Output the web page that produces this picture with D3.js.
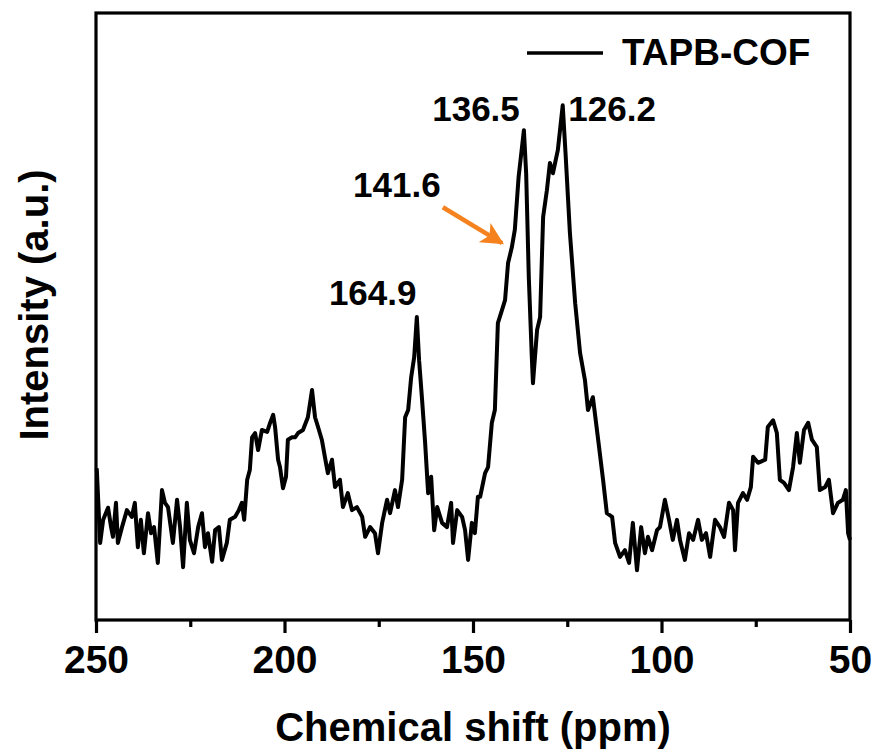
<!DOCTYPE html>
<html>
<head>
<meta charset="utf-8">
<script src="https://cdn.jsdelivr.net/npm/d3@7"></script>
<style>
  body { margin: 0; background: #fff; }
  text { font-family: "Liberation Sans", Arial, sans-serif; font-weight: bold; fill: #000; }
</style>
</head>
<body>
<div id="chart"></div>
<script>

// spectrum: chemical shift (ppm) and intensity (a.u.)
var shift = [249.8, 248.9, 248.1, 246.8, 246.0, 245.5, 244.7, 244.2, 243.1, 241.8, 240.5, 239.7, 238.9, 238.1, 237.3, 236.2,
  235.4, 234.6, 233.6, 232.5, 231.7, 230.9, 229.6, 228.5, 227.7, 226.9, 225.9, 225.1, 224.0, 222.9, 221.9, 221.1,
  220.3, 219.2, 218.4, 217.4, 216.6, 215.3, 214.5, 213.1, 212.1, 211.3, 210.7, 209.9, 209.2, 208.6, 207.8, 207.0,
  206.0, 204.6, 203.8, 203.0, 202.5, 201.7, 201.2, 200.4, 199.6, 199.1, 198.0, 197.2, 196.4, 195.1, 193.8, 192.7,
  191.9, 191.1, 190.1, 189.3, 188.5, 187.4, 186.6, 185.3, 184.5, 183.2, 182.1, 180.8, 179.4, 178.6, 177.3, 176.0,
  175.2, 174.1, 172.8, 172.0, 170.7, 169.9, 168.8, 168.0, 167.2, 166.4, 165.6, 164.9, 164.3, 163.5, 162.7, 161.9,
  161.1, 160.3, 159.5, 158.2, 156.9, 155.8, 155.3, 154.2, 152.9, 152.1, 151.3, 150.3, 149.5, 148.7, 148.1, 146.8,
  146.0, 145.0, 144.2, 143.4, 142.3, 141.5, 140.7, 139.7, 138.9, 137.9, 136.5, 135.9, 135.2, 134.4, 134.1, 133.0,
  132.2, 131.4, 130.4, 129.6, 128.8, 127.5, 126.2, 125.4, 124.3, 122.9, 121.6, 120.3, 119.5, 118.2, 116.8, 115.5,
  114.5, 113.1, 112.3, 111.0, 109.7, 108.6, 107.6, 106.5, 105.4, 104.4, 103.6, 102.5, 101.2, 100.4, 99.1, 98.0,
  97.0, 95.9, 95.1, 93.8, 92.7, 91.6, 90.3, 89.3, 88.2, 87.1, 85.8, 84.5, 83.4, 82.1, 81.0, 80.5,
  79.7, 78.4, 77.3, 76.3, 75.7, 74.4, 72.5, 71.8, 70.4, 69.4, 68.6, 67.5, 66.2, 65.1, 64.1, 63.3,
  62.2, 61.1, 60.1, 58.8, 58.0, 56.6, 55.6, 54.5, 53.2, 51.9, 51.1, 50.5, 50.0];

var intensity = [25.0, 12.7, 16.5, 18.5, 15.3, 13.7, 19.3, 12.7, 15.3, 18.1, 17.0, 19.3, 12.0, 16.5, 11.0, 17.6,
  14.3, 15.3, 9.4, 21.4, 19.3, 18.6, 12.7, 19.8, 15.3, 8.7, 19.3, 13.2, 11.0, 15.3, 17.6, 12.0,
  14.3, 9.6, 14.8, 15.3, 9.9, 12.7, 16.5, 17.0, 18.1, 19.3, 16.5, 23.1, 24.7, 30.1, 30.8, 28.0,
  31.3, 31.0, 32.5, 33.8, 31.8, 26.4, 25.2, 21.7, 23.6, 29.7, 30.1, 30.1, 30.8, 31.3, 33.4, 37.9,
  33.4, 31.8, 29.7, 26.9, 24.2, 26.4, 21.9, 23.1, 18.6, 20.9, 18.1, 18.6, 17.0, 13.7, 15.3, 14.3,
  11.0, 16.0, 19.8, 17.6, 21.4, 18.6, 23.1, 33.4, 34.6, 40.0, 43.3, 49.9, 42.8, 36.2, 29.2, 20.9,
  23.6, 14.8, 18.6, 16.0, 15.3, 19.3, 12.7, 18.1, 17.0, 14.8, 9.9, 16.0, 14.3, 20.3, 20.3, 24.2,
  25.2, 32.5, 34.6, 48.9, 51.1, 52.7, 58.8, 61.4, 64.3, 73.0, 80.7, 73.6, 56.5, 43.3, 39.0, 47.8,
  49.9, 66.4, 70.8, 75.3, 73.6, 77.4, 84.8, 76.3, 63.8, 52.2, 44.0, 39.5, 34.6, 36.7, 29.7, 23.1,
  17.6, 17.0, 12.7, 10.4, 11.5, 9.4, 16.0, 8.2, 15.3, 11.0, 13.7, 11.5, 14.8, 15.3, 19.8, 16.5,
  13.2, 16.5, 13.2, 9.9, 14.3, 13.2, 16.5, 13.2, 14.3, 10.4, 16.5, 15.3, 13.7, 19.3, 18.1, 11.5,
  19.3, 20.9, 19.8, 21.9, 26.9, 25.9, 26.4, 31.8, 32.9, 30.8, 23.1, 22.6, 21.4, 25.2, 30.8, 25.9,
  31.3, 32.5, 29.7, 28.5, 21.4, 21.9, 23.1, 17.6, 19.3, 19.8, 21.4, 14.3, 13.2];

var xTicks = [250, 200, 150, 100, 50];
var xMinor = [225, 175, 125, 75];

// peak labels: text, position (ppm, a.u.) of the label
var peakText = ["164.9", "141.6", "136.5", "126.2"];
var peakX = [176.6, 170.2, 149.2, 113.1];
var peakY = [51.9, 69.7, 82.2, 82.2];

// orange arrow pointing at the 141.6 shoulder
var arrowFrom = [158.0, 68.0];
var arrowTo = [142.3, 62.1];

var seriesName = "TAPB-COF";

var W = 877, H = 751;
var margin = {top: 13, right: 27, bottom: 131, left: 96};
var width = W - margin.left - margin.right,
    height = H - margin.top - margin.bottom;

var svg = d3.select("#chart").append("svg")
    .attr("width", W)
    .attr("height", H);

var g = svg.append("g")
    .attr("transform", "translate(" + margin.left + "," + margin.top + ")");

var x = d3.scaleLinear().domain([250, 50]).range([0, width]);
var y = d3.scaleLinear().domain([0, 100]).range([height, 0]);

var data = shift.map(function(s, i) { return {x: s, y: intensity[i]}; });

var line = d3.line()
    .x(function(d) { return x(d.x); })
    .y(function(d) { return y(d.y); });

g.append("path")
    .datum(data)
    .attr("fill", "none")
    .attr("stroke", "#000")
    .attr("stroke-width", 4)
    .attr("stroke-linejoin", "round")
    .attr("d", line);

// frame
g.append("rect")
    .attr("width", width)
    .attr("height", height)
    .attr("fill", "none")
    .attr("stroke", "#000")
    .attr("stroke-width", 3.2);

// x axis
var xAxis = g.append("g")
    .attr("transform", "translate(0," + height + ")")
    .call(d3.axisBottom(x).tickValues(xTicks).tickSize(13).tickPadding(12));
xAxis.select(".domain").remove();
xAxis.selectAll(".tick line").attr("stroke-width", 3.2);
xAxis.selectAll(".tick text")
    .style("font-size", "39px")
    .style("font-family", "'Liberation Sans', Arial, sans-serif")
    .style("font-weight", "bold");

var xAxisMinor = g.append("g")
    .attr("transform", "translate(0," + height + ")")
    .call(d3.axisBottom(x).tickValues(xMinor).tickSize(7).tickFormat(""));
xAxisMinor.select(".domain").remove();
xAxisMinor.selectAll(".tick line").attr("stroke-width", 3.2);

// axis titles
svg.append("text")
    .attr("x", margin.left + width / 2)
    .attr("y", 741)
    .attr("text-anchor", "middle")
    .style("font-size", "40px")
    .text("Chemical shift (ppm)");

svg.append("text")
    .attr("transform", "translate(48," + 305 + ") rotate(-90)")
    .attr("text-anchor", "middle")
    .style("font-size", "40px")
    .text("Intensity (a.u.)");

// peak labels
g.selectAll(".peak")
    .data(peakText)
    .enter()
    .append("text")
    .attr("class", "peak")
    .attr("x", function(d, i) { return x(peakX[i]); })
    .attr("y", function(d, i) { return y(peakY[i]); })
    .attr("text-anchor", "middle")
    .style("font-size", "35px")
    .text(function(d) { return d; });

// arrow
svg.append("defs").append("marker")
    .attr("id", "head")
    .attr("viewBox", "0 0 10 10")
    .attr("refX", 9)
    .attr("refY", 5)
    .attr("markerWidth", 5)
    .attr("markerHeight", 5)
    .attr("markerUnits", "strokeWidth")
    .attr("orient", "auto")
  .append("path")
    .attr("d", "M0,0 L10,5 L0,10 L2.5,5 Z")
    .attr("fill", "#F5821F");

g.append("line")
    .attr("x1", x(arrowFrom[0]))
    .attr("y1", y(arrowFrom[1]))
    .attr("x2", x(arrowTo[0]))
    .attr("y2", y(arrowTo[1]))
    .attr("stroke", "#F5821F")
    .attr("stroke-width", 4.5)
    .attr("marker-end", "url(#head)");

// legend
var legend = svg.append("g");
legend.append("line")
    .attr("x1", 527).attr("x2", 603)
    .attr("y1", 53).attr("y2", 53)
    .attr("stroke", "#000")
    .attr("stroke-width", 3.5);
legend.append("text")
    .attr("x", 622)
    .attr("y", 65)
    .style("font-size", "37px")
    .text(seriesName);

</script>
</body>
</html>
